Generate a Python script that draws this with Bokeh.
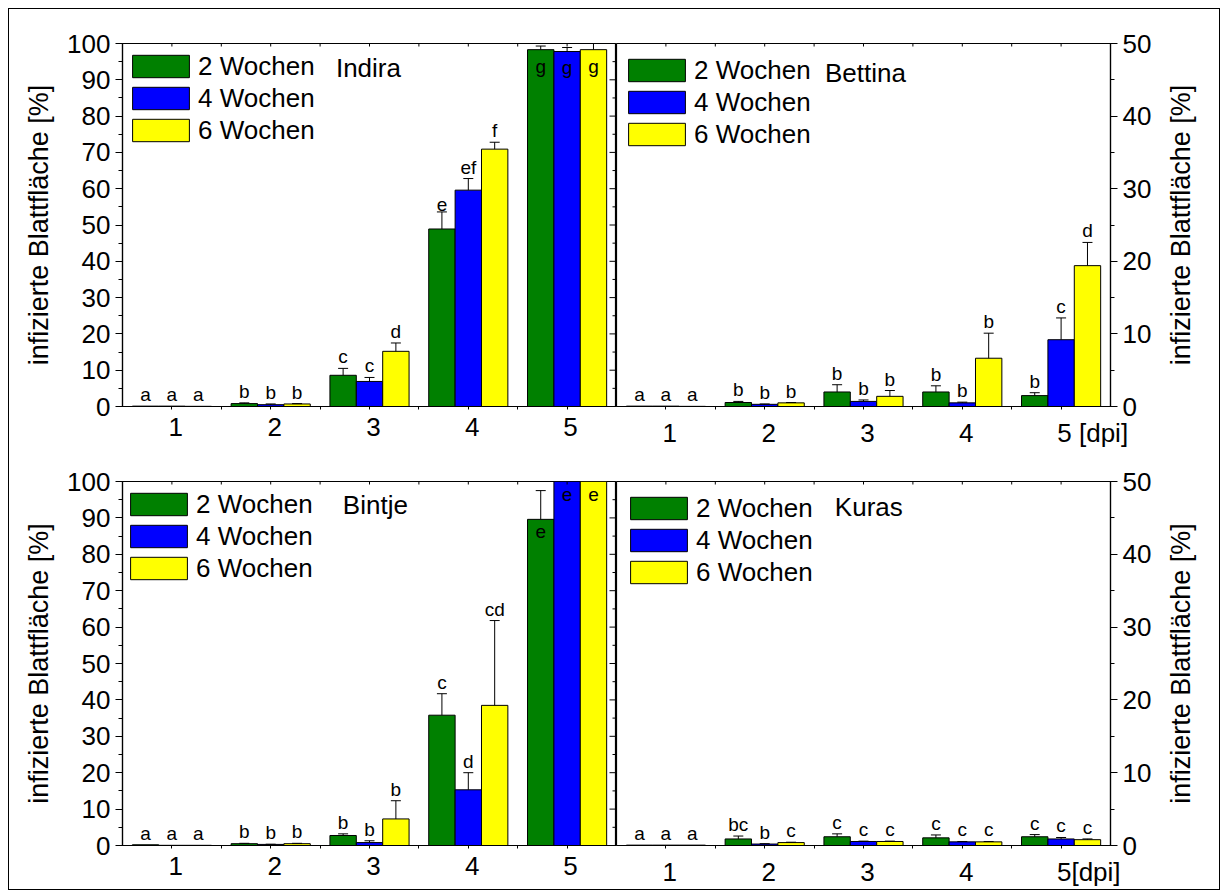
import math
from bokeh.plotting import figure
from bokeh.layouts import column, row
from bokeh.models import (Range1d, FixedTicker, SingleIntervalTicker,
                          Legend, LegendItem, Label, ColumnDataSource)
from bokeh.core.properties import value
from bokeh.embed import file_html
from bokeh.resources import INLINE

# ---------------- data ----------------
days = [1, 2, 3, 4, 5]
series = ["2 Wochen", "4 Wochen", "6 Wochen"]
colors = ["#008000", "#0000FF", "#FFFF00"]

# Indira (0-100 %)
indira_2w = [0.1, 0.8, 8.6, 48.9, 98.3]
indira_4w = [0.1, 0.5, 6.9, 59.6, 97.8]
indira_6w = [0.05, 0.7, 15.2, 70.9, 98.3]
indira_2w_err = [0.0, 0.2, 1.9, 4.7, 1.0]
indira_4w_err = [0.0, 0.2, 1.1, 3.2, 1.1]
indira_6w_err = [0.0, 0.1, 2.3, 1.9, 1.7]
indira_2w_let = ["a", "b", "c", "e", "g"]
indira_4w_let = ["a", "b", "c", "ef", "g"]
indira_6w_let = ["a", "b", "d", "f", "g"]

# Bettina (0-50 %)
bettina_2w = [0.05, 0.55, 2.0, 2.0, 1.5]
bettina_4w = [0.05, 0.3, 0.7, 0.5, 9.2]
bettina_6w = [0.02, 0.5, 1.4, 6.65, 19.4]
bettina_2w_err = [0.0, 0.15, 1.0, 0.85, 0.4]
bettina_4w_err = [0.0, 0.05, 0.2, 0.1, 3.0]
bettina_6w_err = [0.0, 0.05, 0.8, 3.45, 3.2]
bettina_2w_let = ["a", "b", "b", "b", "b"]
bettina_4w_let = ["a", "b", "b", "b", "c"]
bettina_6w_let = ["a", "b", "b", "b", "d"]

# Bintje (0-100 %)
bintje_2w = [0.2, 0.5, 2.75, 35.8, 89.6]
bintje_4w = [0.05, 0.3, 0.8, 15.3, 100.0]
bintje_6w = [0.05, 0.5, 7.3, 38.5, 100.0]
bintje_2w_err = [0.0, 0.1, 0.45, 5.9, 7.9]
bintje_4w_err = [0.0, 0.05, 0.5, 4.7, 0.0]
bintje_6w_err = [0.0, 0.1, 5.0, 23.3, 0.0]
bintje_2w_let = ["a", "b", "b", "c", "e"]
bintje_4w_let = ["a", "b", "b", "d", "e"]
bintje_6w_let = ["a", "b", "b", "cd", "e"]

# Kuras (0-50 %)
kuras_2w = [0.05, 0.9, 1.2, 1.05, 1.2]
kuras_4w = [0.05, 0.2, 0.55, 0.5, 0.9]
kuras_6w = [0.05, 0.4, 0.55, 0.5, 0.8]
kuras_2w_err = [0.0, 0.4, 0.4, 0.4, 0.3]
kuras_4w_err = [0.0, 0.05, 0.05, 0.05, 0.2]
kuras_6w_err = [0.0, 0.05, 0.05, 0.05, 0.1]
kuras_2w_let = ["a", "bc", "c", "c", "c"]
kuras_4w_let = ["a", "b", "c", "c", "c"]
kuras_6w_let = ["a", "c", "c", "c", "c"]

y_label = "infizierte Blattfläche [%]"

# ---------------- styling ----------------
FONT = "Liberation Sans"
BW = 0.267
FRAME_W = 494
LEG_ROW = 32
LEG_SPACING = 0
TICK_SHIFT = 0.04


def style_axis(ax):
    ax.axis_line_color = "black"
    ax.axis_line_width = 1.2
    ax.major_tick_line_color = "black"
    ax.minor_tick_line_color = "black"
    ax.major_label_text_font = FONT
    ax.major_label_text_color = "black"


def dims(top_row):
    # (figure height, frame height, min_border_top, min_border_bottom)
    return (441, 363, 34, 44) if top_row else (439, 364, 31, 44)


def make_panel(name, means, errs, letters, ymax, side, top_row,
               legend_off, name_xy, last_label, last_pos):
    height, frame_h, mbt, mbb = dims(top_row)
    if side == "left":
        width, mbl, mbr = 607, 113, 0
    else:
        width, mbl, mbr = 546, 0, 52
    p = figure(width=width, height=height, x_range=Range1d(0.5, 5.5),
               y_range=Range1d(0, ymax), output_backend="svg",
               toolbar_location=None, y_axis_location=side,
               min_border_left=mbl, min_border_right=mbr,
               min_border_top=mbt, min_border_bottom=mbb)
    p.grid.visible = False
    p.outline_line_color = "black"
    p.outline_line_width = 1.2
    ppu = frame_h / ymax
    ppx = FRAME_W / 5.0

    items = []
    ab_x, ab_y, ab_t = [], [], []
    in_x, in_y, in_t = [], [], []
    ex, ey0, ey1 = [], [], []
    for i in range(3):
        xs = [d + (i - 1) * BW for d in days]
        src = ColumnDataSource(dict(x=xs, top=means[i]))
        r = p.vbar(x="x", top="top", bottom=0, width=BW, source=src,
                   fill_color=colors[i], line_color="black", line_width=1)
        items.append(LegendItem(label=series[i], renderers=[r]))
        for x, m, e, t in zip(xs, means[i], errs[i], letters[i]):
            if e > 0:
                ex.append(x)
                ey0.append(m)
                ey1.append(m + e)
            hi = m + e
            if hi + 24 / ppu > ymax:
                in_x.append(x)
                in_y.append(min(m, ymax) - 6 / ppu)
                in_t.append(t)
            else:
                ab_x.append(x)
                ab_y.append(hi + 1 / ppu)
                ab_t.append(t)

    p.segment(x0=ex, y0=ey0, x1=ex, y1=ey1, line_color="black", line_width=1)
    p.scatter(x=ex, y=ey1, marker="dash", size=10, line_color="black",
              line_width=1)
    p.text(x=ab_x, y=ab_y, text=ab_t, text_align="center",
           text_baseline="bottom", text_font=value(FONT),
           text_font_size="19px", text_color="black")
    p.text(x=in_x, y=in_y, text=in_t, text_align="center",
           text_baseline="top", text_font=value(FONT),
           text_font_size="19px", text_color="black")

    # inner tick marks on the top edge
    half_ticks = [d / 2 for d in range(2, 11)]
    p.segment(x0=half_ticks, x1=half_ticks, y0=[ymax - 3 / ppu] * len(half_ticks),
              y1=[ymax] * len(half_ticks), line_color="black", line_width=1)
    # inner tick marks on the right edge of left panels
    if side == "left":
        ymaj = list(range(0, ymax + 1, 10))
        ymin = [v + 5 for v in range(0, ymax, 10)]
        p.segment(x0=[5.5 - 7 / ppx] * len(ymaj), x1=[5.5] * len(ymaj),
                  y0=ymaj, y1=ymaj, line_color="black", line_width=1)
        p.segment(x0=[5.5 - 4 / ppx] * len(ymin), x1=[5.5] * len(ymin),
                  y0=ymin, y1=ymin, line_color="black", line_width=1)

    # y axis
    yax = p.yaxis[0]
    style_axis(yax)
    yax.ticker = SingleIntervalTicker(interval=10, num_minor_ticks=2)
    yax.major_label_text_font_size = "26px"
    yax.major_tick_out = 7
    yax.major_tick_in = 0
    yax.minor_tick_out = 4
    yax.minor_tick_in = 0
    yax.major_label_standoff = 5
    if side == "left":
        yax.axis_label = y_label
        yax.axis_label_text_font = FONT
        yax.axis_label_text_font_size = "27px"
        yax.axis_label_text_font_style = "normal"
        yax.axis_label_text_color = "black"
        yax.axis_label_standoff = 10

    # x axis (labels drawn at major ticks, tick marks drawn as minor ticks)
    xax = p.xaxis[0]
    style_axis(xax)
    ticks = [d + TICK_SHIFT for d in days[:-1]] + [last_pos]
    overrides = {t: str(d) for t, d in zip(ticks[:-1], days[:-1])}
    overrides[last_pos] = last_label
    xax.ticker = FixedTicker(ticks=ticks, minor_ticks=half_ticks)
    xax.major_label_overrides = overrides
    xax.major_label_text_font_size = "26px"
    xax.major_tick_out = 0
    xax.major_tick_in = 0
    xax.minor_tick_out = 3
    xax.minor_tick_in = 0
    xax.major_label_standoff = 8

    leg_h = 3 * LEG_ROW + 2 * LEG_SPACING
    legend = Legend(items=items,
                    location=(legend_off[0], frame_h - legend_off[1] - leg_h),
                    margin=0, padding=0, spacing=LEG_SPACING,
                    glyph_width=71, glyph_height=28, label_height=LEG_ROW,
                    label_standoff=2, label_text_font=FONT,
                    label_text_font_size="26px", label_text_color="black",
                    border_line_color=None, background_fill_alpha=0)
    p.add_layout(legend)

    p.add_layout(Label(x=name_xy[0], y=name_xy[1], text=name,
                       text_font=FONT, text_font_size="26px",
                       text_baseline="middle", text_align="left",
                       text_color="black"))
    return p


def make_side_label(top_row):
    height, frame_h, mbt, mbb = dims(top_row)
    q = figure(width=57, height=height, x_range=Range1d(0, 57),
               y_range=Range1d(0, 1), output_backend="svg",
               toolbar_location=None, min_border_left=0, min_border_right=0,
               min_border_top=mbt, min_border_bottom=mbb)
    q.axis.visible = False
    q.grid.visible = False
    q.outline_line_color = None
    q.text(x=[18], y=[0.5], text=[y_label], angle=math.pi / 2,
           text_align="center", text_baseline="middle",
           text_font=value(FONT), text_font_size="27px", text_color="black")
    return q


p1 = make_panel("Indira",
                [indira_2w, indira_4w, indira_6w],
                [indira_2w_err, indira_4w_err, indira_6w_err],
                [indira_2w_let, indira_4w_let, indira_6w_let],
                100, "left", True, (3, 7), (2.66, 93.2), "5", 5.035)
p2 = make_panel("Bettina",
                [bettina_2w, bettina_4w, bettina_6w],
                [bettina_2w_err, bettina_4w_err, bettina_6w_err],
                [bettina_2w_let, bettina_4w_let, bettina_6w_let],
                50, "right", True, (5, 11), (2.61, 46.0), "5 [dpi]", 5.32)
p3 = make_panel("Bintje",
                [bintje_2w, bintje_4w, bintje_6w],
                [bintje_2w_err, bintje_4w_err, bintje_6w_err],
                [bintje_2w_let, bintje_4w_let, bintje_6w_let],
                100, "left", False, (1, 7), (2.73, 93.5), "5", 5.035)
p4 = make_panel("Kuras",
                [kuras_2w, kuras_4w, kuras_6w],
                [kuras_2w_err, kuras_4w_err, kuras_6w_err],
                [kuras_2w_let, kuras_4w_let, kuras_6w_let],
                50, "right", False, (7, 11), (2.71, 46.5), "5[dpi]", 5.28)

layout = column(row(p1, p2, make_side_label(True)),
                row(p3, p4, make_side_label(False)),
                styles={"border": "1px solid black", "margin": "8px"})

open("out.html", "w").write(file_html(layout, INLINE))
